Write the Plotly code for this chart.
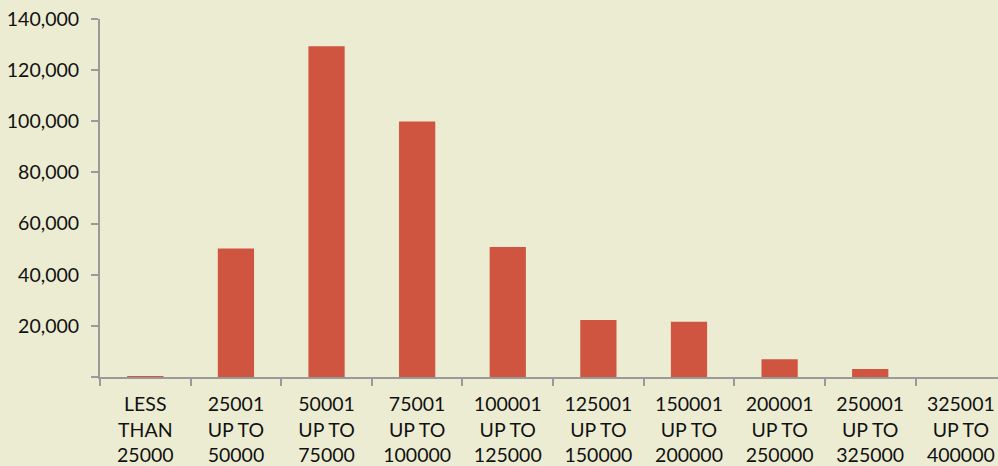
import plotly.graph_objects as go

categories = ["LESS<br>THAN<br>25000", "25001<br>UP TO<br>50000", "50001<br>UP TO<br>75000",
              "75001<br>UP TO<br>100000", "100001<br>UP TO<br>125000", "125001<br>UP TO<br>150000",
              "150001<br>UP TO<br>200000", "200001<br>UP TO<br>250000", "250001<br>UP TO<br>325000",
              "325001<br>UP TO<br>400000"]
values = [350, 50300, 129300, 99900, 50800, 22300, 21600, 6900, 3100, 0]
y_ticks = [0, 20000, 40000, 60000, 80000, 100000, 120000, 140000]
y_tick_labels = ["", "20,000", "40,000", "60,000", "80,000", "100,000", "120,000", "140,000"]

bg = "#ECECD2"
fig = go.Figure(go.Bar(x=categories, y=values, marker_color="#D05540", marker_line_width=0, width=0.4))
fig.update_layout(
    width=998, height=466,
    paper_bgcolor=bg, plot_bgcolor=bg,
    margin=dict(l=100, r=0, t=19, b=89),
    font=dict(family="Lato", size=19.5, color="#111111"),
    showlegend=False,
    bargap=0.6,
)
fig.update_xaxes(
    range=[-0.5, 9.41], showgrid=False, showline=True, linecolor="#9a9a9a", linewidth=2,
    ticks="outside", tickson="boundaries", ticklen=7, tickcolor="#9a9a9a", tickwidth=2,
    tickangle=0, zeroline=False, ticklabelstandoff=9,
)
fig.update_yaxes(
    range=[0, 140000], tickvals=y_ticks, ticktext=y_tick_labels, showgrid=False,
    showline=True, linecolor="#9a9a9a", linewidth=2, ticks="outside", ticklen=7,
    tickcolor="#9a9a9a", tickwidth=2, zeroline=False, ticklabelstandoff=8,
)
fig.write_html("out.html")
